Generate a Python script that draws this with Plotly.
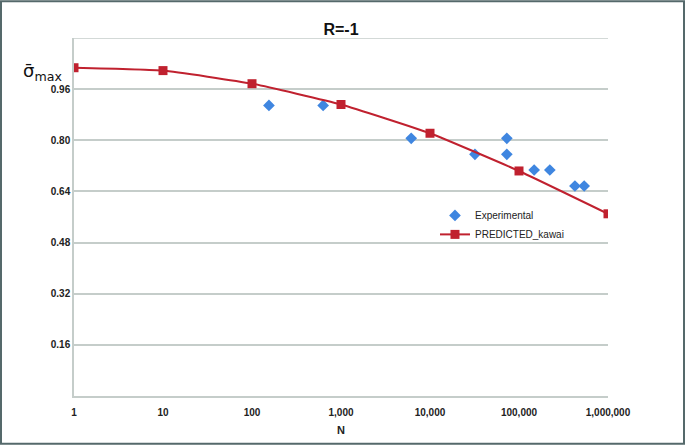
import plotly.graph_objects as go

# Data
pred_n = [1, 10, 100, 1000, 10000, 100000, 1000000]
pred_s = [1.027, 1.018, 0.977, 0.912, 0.822, 0.704, 0.570]
exp_n = [155, 630, 6150, 32000, 73000, 73000, 148000, 222000, 425000, 540000]
exp_s = [0.909, 0.909, 0.806, 0.756, 0.806, 0.756, 0.707, 0.707, 0.657, 0.657]
x_ticks = [1, 10, 100, 1000, 10000, 100000, 1000000]
x_labels = ["1", "10", "100", "1,000", "10,000", "100,000", "1,000,000"]
y_ticks = [0.16, 0.32, 0.48, 0.64, 0.80, 0.96]
y_labels = ["0.16", "0.32", "0.48", "0.64", "0.80", "0.96"]
y_top = 1.12

fig = go.Figure()
fig.add_trace(go.Scatter(
    x=exp_n, y=exp_s, mode="markers", name="Experimental",
    marker=dict(symbol="diamond", size=9, color="#3f86e0"),
))
fig.add_trace(go.Scatter(
    x=pred_n, y=pred_s, mode="lines+markers", name="PREDICTED_kawai",
    line=dict(color="#c0212f", width=2, shape="spline", smoothing=0.4),
    marker=dict(symbol="square", size=9, color="#c0212f"),
))

L, R, T, B = 74, 77, 38, 49
W, H = 685, 447
pw, ph = W - L - R, H - T - B

fig.update_layout(
    width=W, height=H,
    margin=dict(l=L, r=R, t=T, b=B),
    paper_bgcolor="white", plot_bgcolor="white",
    font=dict(family="Liberation Sans, Arial, sans-serif", color="#222"),
    title=dict(text="<b>R=-1</b>", x=(L + pw / 2) / W, xanchor="center",
               y=1 - 29 / H, yanchor="middle", font=dict(size=16, color="#111")),
    showlegend=True,
    legend=dict(x=0.676, y=0.545, xanchor="left", yanchor="top",
                bgcolor="rgba(0,0,0,0)", font=dict(size=10, color="#222"),
                tracegroupgap=2),
    xaxis=dict(type="log", range=[0, 6], tickvals=x_ticks, ticktext=x_labels,
               showgrid=False, showline=True, linecolor="#c5cdca", linewidth=1.5,
               ticks="", ticklabelstandoff=6,
               tickfont=dict(size=10, color="#222", weight="bold"),
               title=dict(text="<b>N</b>", font=dict(size=11, color="#222"), standoff=10),
               zeroline=False),
    yaxis=dict(range=[0, y_top], tickvals=y_ticks, ticktext=y_labels,
               showgrid=True, gridcolor="#c5cdca", gridwidth=1.5,
               showline=True, linecolor="#c5cdca", linewidth=1.5,
               ticks="", tickfont=dict(size=10, color="#222", weight="bold"),
               zeroline=False),
)

fig.add_shape(type="line", xref="paper", yref="y", x0=0, x1=1, y0=y_top, y1=y_top,
              line=dict(color="#c5cdca", width=1.5), layer="below")

fig.add_annotation(
    xref="paper", yref="paper",
    x=-32 / pw, y=(H - B - 72) / ph,
    text="σ̄<sub>max</sub>", showarrow=False,
    font=dict(size=18, color="#111", family="DejaVu Sans"),
    xanchor="center", yanchor="middle",
)

fig.add_shape(type="rect", xref="paper", yref="paper",
              x0=-(L - 1) / pw, x1=1 + (R - 1) / pw,
              y0=-(B - 1) / ph, y1=1 + (T - 1) / ph,
              line=dict(color="#55696b", width=2), layer="above")

fig.write_html("out.html", config={"displayModeBar": False},
               post_script="document.body.style.margin='0';document.body.style.overflow='hidden';")
